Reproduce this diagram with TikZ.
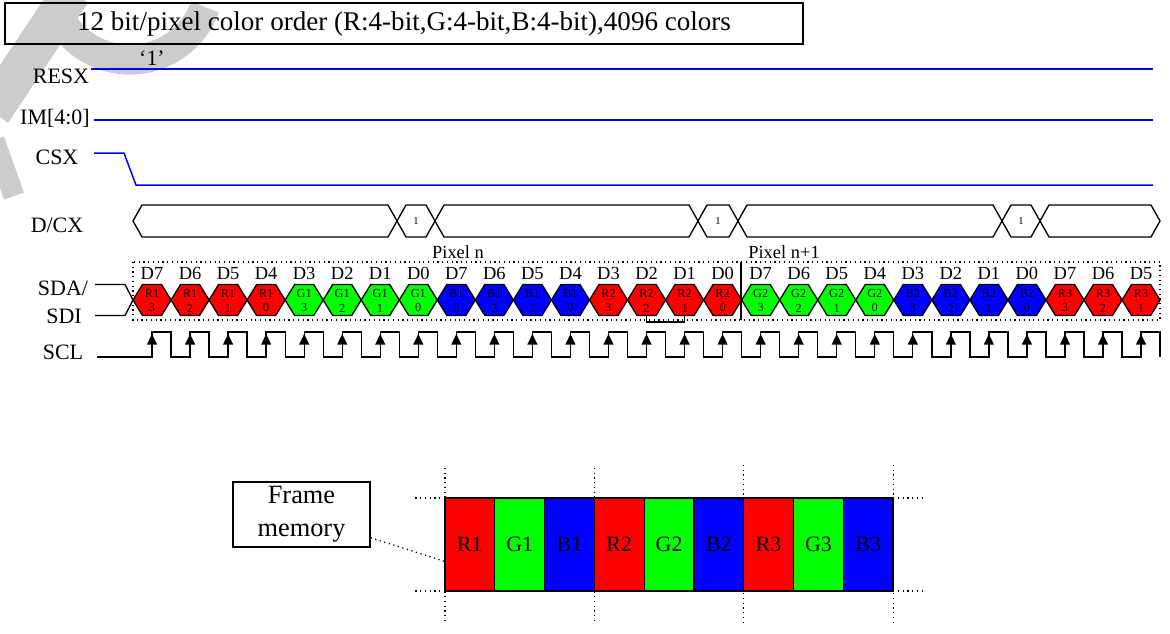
\documentclass[tikz,border=0pt]{standalone}
\usepackage{fontspec}
\setmainfont{Liberation Serif}
\usetikzlibrary{arrows.meta,positioning,calc}
\definecolor{pixR}{RGB}{255,0,0}
\definecolor{pixG}{RGB}{0,255,0}
\definecolor{pixB}{RGB}{0,0,255}
\tikzset{
  siglabel/.style={font=\fontsize{12.5}{14}\selectfont, inner sep=0pt},
  bluesig/.style={draw=pixB, line width=0.85pt},
  wire/.style={draw=black, line width=0.75pt},
  hexcell/.style={draw=black, line width=0.75pt},
  bitlabel/.style={font=\fontsize{10.5}{12}\selectfont, inner sep=0pt},
  hextext/.style={font=\fontsize{7}{8.5}\selectfont, align=center, inner sep=0pt},
  clkarrow/.style={-{Triangle[length=6pt,width=5.6pt]}, line width=0.75pt},
  guide/.style={dotted, line width=0.7pt},
  memcell/.style={draw, line width=0.75pt, minimum width=0.996cm, minimum height=1.86cm,
    inner sep=0pt, outer sep=0pt, font=\fontsize{12.5}{14}\selectfont}
}

\begin{document}
\begin{tikzpicture}[x=0.02cm, y=-0.02cm]
  \useasboundingbox (0,0) rectangle (1170,633);
  % watermark
  \draw[black!20, line width=22pt] (72,-8) -- (-8,112);
  \draw[black!20, line width=17pt] (205,7) arc[start angle=20, end angle=160, radius=80];
  \draw[black!20, line width=12pt] (-6,140) -- (14,196);

  \node[draw, line width=0.8pt, minimum width=15.96cm, minimum height=0.82cm, inner sep=0pt,
    font=\fontsize{15.4}{18}\selectfont] (title) at (404,23.5)
    {12 bit/pixel color order (R:4-bit,G:4-bit,B:4-bit),4096 colors};
  \node[siglabel] (one) at (152,58) {‘1’};

  \node[siglabel] (resx) at (61,76) {RESX};
  \node[siglabel] (im) at (55,118) {IM[4:0]};
  \node[siglabel] (csx) at (57,157) {CSX};
  \node[siglabel] (dcx) at (57,225) {D/CX};
  \node[siglabel] (sda) at (63,288) {SDA/};
  \node[siglabel] (sdi) at (64,316) {SDI};
  \node[siglabel] (scl) at (63,352) {SCL};

  \draw[bluesig] (91,69) -- (1153,69);
  \draw[bluesig] (94,120) -- (1153,120);
  \draw[bluesig] (94,153) -- (124,153) -- (136,185) -- (1153,185);

  % D/CX bus
  \foreach \a/\b in {133/397,397/435,435/698,698/738,738/1002,1002/1040,1040/1160}
    \draw[wire] (\a,221) -- ({\a+9},205) -- ({\b-9},205) -- (\b,221) -- ({\b-9},237)
      -- ({\a+9},237) -- cycle;
  \foreach \x/\n in {416/c1,718/c2,1021/c3}
    \node[font=\fontsize{6}{7}\selectfont, inner sep=0pt] (\n) at (\x,221) {1};

  \node[font=\fontsize{10.5}{12}\selectfont, inner sep=0pt] (pixn) at (458,252) {Pixel n};
  \node[font=\fontsize{10.5}{12}\selectfont, inner sep=0pt, anchor=west] (pixnn) at (748,252) {Pixel n+1};
  \draw[guide] (133,262) rectangle (1160,320);
  \draw[wire] (741,262) -- (741,320);

  % SDA/SDI
  \draw[wire] (95,284.5) -- (125,284.5) -- (133,300);
  \draw[wire] (95,315.5) -- (125,315.5) -- (133,300);
  \foreach \clr/\nm/\bt/\dn [count=\i from 0] in {
      pixR/R1/3/D7,pixR/R1/2/D6,pixR/R1/1/D5,pixR/R1/0/D4,
      pixG/G1/3/D3,pixG/G1/2/D2,pixG/G1/1/D1,pixG/G1/0/D0,
      pixB/B1/3/D7,pixB/B1/2/D6,pixB/B1/1/D5,pixB/B1/0/D4,
      pixR/R2/3/D3,pixR/R2/2/D2,pixR/R2/1/D1,pixR/R2/0/D0,
      pixG/G2/3/D7,pixG/G2/2/D6,pixG/G2/1/D5,pixG/G2/0/D4,
      pixB/B2/3/D3,pixB/B2/2/D2,pixB/B2/1/D1,pixB/B2/0/D0,
      pixR/R3/3/D7,pixR/R3/2/D6,pixR/R3/1/D5} {
    \pgfmathsetmacro{\xa}{133+\i*38.04}
    \filldraw[hexcell, fill=\clr] (\xa,300) -- ++(9.5,-15.5) -- ++(19.04,0) -- ++(9.5,15.5)
      -- ++(-9.5,15.5) -- ++(-19.04,0) -- cycle;
    \node[hextext] (h\i) at ({\xa+19.02},300.5) {\nm\\\bt};
    \node[bitlabel] (d\i) at ({\xa+19.02},273.5) {\dn};
  }
  \draw[wire] (h13 |- 0,315.5) -- (h13 |- 0,322) -- (h14 |- 0,322) -- (h14 |- 0,315.5);

  % SCL
  \draw[wire] (97,357) \foreach \i in {0,...,26} {
      -- ({152.02+\i*38.04},357) -- ({152.02+\i*38.04},332)
      -- ({171.04+\i*38.04},332) -- ({171.04+\i*38.04},357) };
  \foreach \i in {0,...,26}
    \draw[clkarrow] ({152.02+\i*38.04},347) -- ({152.02+\i*38.04},334);

  % frame memory
  \node[draw, line width=0.75pt, minimum width=2.74cm, minimum height=1.3cm, inner sep=0pt,
    align=center, font=\fontsize{15}{18.7}\selectfont] (frame) at (301.5,514.5) {Frame\\memory};
  \node[memcell, fill=pixR] (m1) at (469.9,544.5) {R1};
  \foreach \clr/\nm [count=\k from 2] in {pixG/G1,pixB/B1,pixR/R2,pixG/G2,pixB/B2,pixR/R3,pixG/G3,pixB/B3} {
    \pgfmathtruncatemacro{\prev}{\k-1}
    \node[memcell, fill=\clr, right=0pt of m\prev] (m\k) {\nm};
  }
  \draw[guide] (m1.north west) -- ++(-33,0);
  \draw[guide] (m1.south west) -- ++(-33,0);
  \draw[guide] (m9.north east) -- ++(29,0);
  \draw[guide] (m9.south east) -- ++(29,0);
  \foreach \n/\yy in {m1.west/468,m3.east/468,m6.east/465,m9.east/465}
    \draw[guide] (\n |- 0,\yy) -- (\n |- 0,623);
  \draw[guide] ($(frame.south east)+(0,-10)$) -- ($(m1.west)+(0,17)$);
\end{tikzpicture}
\end{document}
